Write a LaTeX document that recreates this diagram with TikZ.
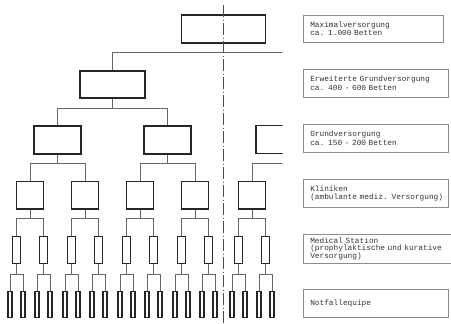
\documentclass[tikz,border=0pt]{standalone}
\usepackage{fontspec}
\newfontfamily\tw{Liberation Mono}
\begin{document}
\begin{tikzpicture}[x=1pt,y=-1pt,
  bx/.style={draw=black!85,line width=1.3pt,inner sep=0pt},
  b1/.style={bx,minimum width=83.5pt,minimum height=28pt},
  b2/.style={bx,minimum width=65pt,minimum height=27pt},
  b3/.style={bx,minimum width=47pt,minimum height=28pt},
  b4/.style={bx,minimum width=27.5pt,minimum height=27.3pt},
  b5/.style={bx,line width=1.1pt,minimum width=8.3pt,minimum height=26.6pt},
  b6/.style={bx,line width=1.1pt,minimum width=4pt,minimum height=25.6pt},
  conn/.style={draw=black!60,line width=0.5pt},
  axis/.style={draw=black!70,line width=0.6pt,dash pattern=on 12pt off 2.5pt on 1pt off 2.5pt},
  lbl/.style={draw=black!45,line width=0.5pt,anchor=north west,inner xsep=7pt,inner ysep=0pt,
    align=left,text=black!80,minimum height=28pt,minimum width=145pt,text width=131pt,
    font=\tw\fontsize{7.8}{8.4}\selectfont},
]
\useasboundingbox (0,0) rectangle (451,324);

\begin{scope}
\clip (0,0) rectangle (282.7,324);
% level 1 and 2
\node[b1] (n1) at (223.5,29) {};
\node[b2] (n2a) at (112.5,84.5) {};
\coordinate (n2b) at (334.5,71);
\draw[conn] (n1.south) -- ++(0,9) -| (n2a.north);
\draw[conn] (n1.south) -- ++(0,9) -| (n2b);
% level 3
\node[b3] (n3-1) at (57.5,140) {};
\node[b3] (n3-2) at (167.5,140) {};
\node[b3] (n3-3) at (279.5,139.5) {};
\draw[conn] (n2a.south) -- ++(0,10) -| (n3-1.north);
\draw[conn] (n2a.south) -- ++(0,10) -| (n3-2.north);
% level 4 .. 6
\foreach \i/\c in {1/30,2/85,3/140,4/195,5/252}{
  \node[b4] (n4-\i) at (\c,195.4) {};
  \foreach \j in {1,2}{
    \pgfmathsetmacro\cc{\c+(2*\j-3)*13.5}
    \node[b5] (n5-\i-\j) at (\cc,250) {};
    \draw[conn] (n4-\i.south) -- ++(0,9) -| (n5-\i-\j.north);
    \foreach \k in {1,2}{
      \pgfmathsetmacro\ccc{\cc+(2*\k-3)*6.5}
      \node[b6] (n6-\i-\j-\k) at (\ccc,304.5) {};
      \draw[conn] (n5-\i-\j.south) -- ++(0,10.5) -| (n6-\i-\j-\k.north);
    }
  }
}
\draw[conn] (n3-1.south) -- ++(0,9) -| (n4-1.north);
\draw[conn] (n3-1.south) -- ++(0,9) -| (n4-2.north);
\draw[conn] (n3-2.south) -- ++(0,9) -| (n4-3.north);
\draw[conn] (n3-2.south) -- ++(0,9) -| (n4-4.north);
\coordinate (b3c) at (310,163);
\draw[conn] (n4-5.north) |- (b3c);
\end{scope}

% axis line
\coordinate (ax1) at (223.5,5);
\coordinate (ax2) at (223.5,324);
\draw[axis] (ax1) -- (ax2);

% labels
\node[lbl,minimum width=140pt,minimum height=27pt,text width=126pt] (l1) at (303,15) {Maximalversorgung\\ca. 1.000 Betten};
\node[lbl] (l2) at (303,69) {Erweiterte Grundversorgung\\ca. 400 - 600 Betten};
\node[lbl] (l3) at (303,124) {Grundversorgung\\ca. 150 - 200 Betten};
\node[lbl] (l4) at (303,179) {Kliniken\\\mbox{(ambulante mediz. Versorgung)}};
\node[lbl,minimum width=152pt,minimum height=29pt,text width=138pt,
  font=\tw\fontsize{7.8}{6.8}\selectfont] (l5) at (303,234) {Medical Station\\\mbox{(prophylaktische und kurative}\\Versorgung)};
\node[lbl] (l6) at (303,289) {Notfallequipe};
\end{tikzpicture}
\end{document}
